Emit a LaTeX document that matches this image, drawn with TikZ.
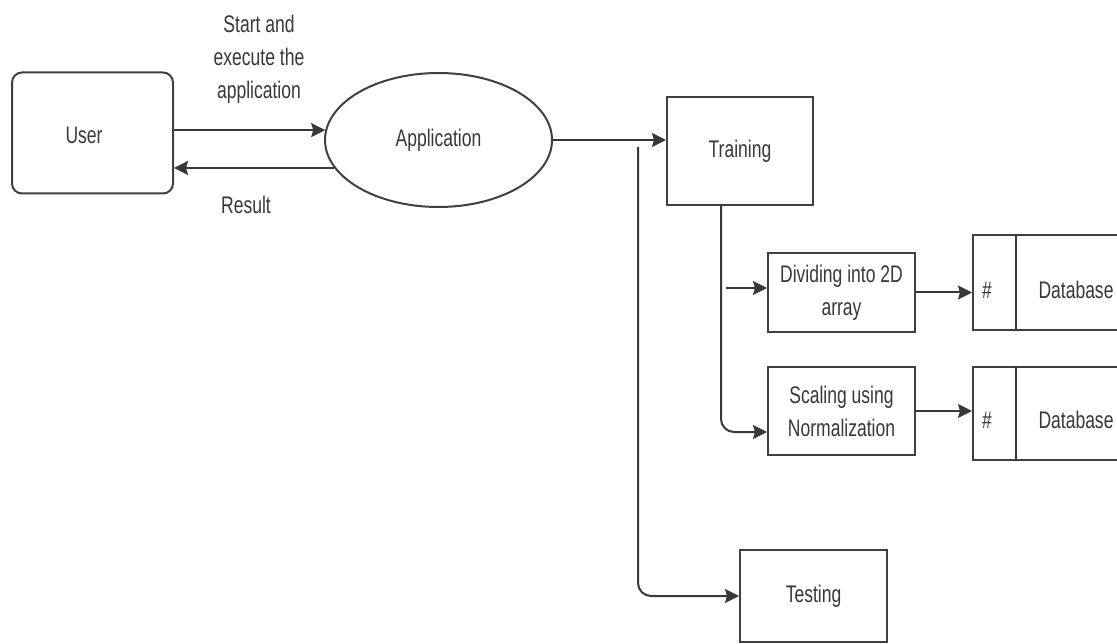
\documentclass[tikz,border=0pt]{standalone}
\usepackage{fontspec}
\setmainfont{Liberation Sans}[FakeStretch=0.73]
\usetikzlibrary{arrows.meta,shapes.geometric}

\begin{document}
\begin{tikzpicture}[x=1pt,y=-1pt,
  ink/.style={black!78},
  conn/.style={ink,line width=2pt},
  flow/.style={conn,-{Stealth[length=14pt,width=14pt,inset=2pt]}},
  txt/.style={text=black!78,font=\fontsize{24pt}{33pt}\selectfont,align=center,inner sep=0pt},
  box/.style={draw=black!75,line width=2pt,rectangle,inner sep=0pt,txt},
  oval/.style={draw=black!75,line width=2pt,ellipse,inner sep=0pt,txt},
  label/.style={txt}
]
\useasboundingbox (0,0) rectangle (1117,644);
\clip (0,0) rectangle (1117,644);
\fill[white] (0,0) rectangle (1117,644);

% main nodes
\node[box,rounded corners=10pt,minimum width=161pt,minimum height=121pt] (user) at (92.5,133) {};
\node[label] (usertext) at (84,135) {User};
\node[oval,minimum width=227pt,minimum height=134pt] (app) at (438.5,140) {Application};
\node[box,minimum width=146pt,minimum height=108pt] (train) at (740,151) {Training};
\node[box,minimum width=147pt,minimum height=79pt] (divide) at (841.5,292.5) {Dividing into 2D\\array};
\node[box,minimum width=147pt,minimum height=88pt] (scale) at (841.5,411) {Scaling using\\Normalization};
\node[box,minimum width=147pt,minimum height=92pt] (test) at (813.5,596) {Testing};

% data stores: a narrow id column and a name column
\node[box,minimum width=162pt,minimum height=95pt] (db1) at (1054,282.5) {};
\node[box,minimum width=162pt,minimum height=93pt] (db2) at (1054,413.5) {};
\draw[conn] ([xshift=44pt]db1.north west) -- ([xshift=44pt]db1.south west);
\draw[conn] ([xshift=44pt]db2.north west) -- ([xshift=44pt]db2.south west);
\node[label] (hash1) at (987,290) {\#};
\node[label] (name1) at (1076,290) {Database};
\node[label] (hash2) at (987,420) {\#};
\node[label] (name2) at (1076,420) {Database};

% edge labels
\node[label] (startlbl) at (259,59) {Start and\\execute the\\application};
\node[label] (resultlbl) at (246,205) {Result};

% connectors
\draw[flow] (user.east |- app.175) -- (app.175);
\draw[flow] (app.195) -- (app.195 -| user.east);
\draw[flow] (app.east) -- (app.east -| train.west);

\coordinate (teststart) at (638,147);
\draw[flow,rounded corners=13pt] (teststart) |- (test.west);

\draw[flow,rounded corners=13pt] ([xshift=-19pt]train.south) |- ([yshift=-21pt]scale.west);
\coordinate (divstart) at (726,288);
\draw[flow] (divstart) -- (divstart -| divide.west);

\draw[flow] (divide.east) -- (divide.east -| db1.west);
\draw[flow] (scale.east) -- (scale.east -| db2.west);
\end{tikzpicture}
\end{document}
